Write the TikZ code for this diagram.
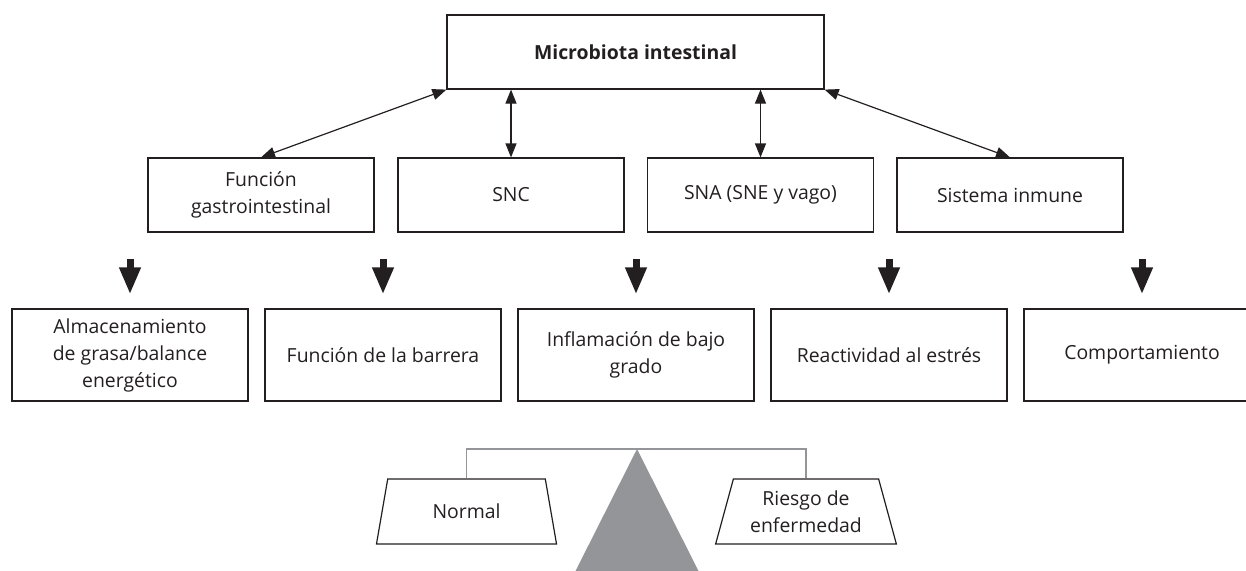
\documentclass[tikz,border=0pt]{standalone}
\usepackage{fontspec}
\setmainfont{Open Sans}
\usetikzlibrary{arrows.meta,positioning,shapes.geometric}
\definecolor{ink}{HTML}{231F20}
\definecolor{scalegray}{HTML}{939598}
\tikzset{
  box/.style={draw=ink, text=ink, line width=1.2pt, align=center, inner sep=0pt, minimum height=74pt, font=\fontsize{19.4}{27}\selectfont},
  midbox/.style={box, minimum width=226pt},
  lowbox/.style={box, minimum width=236pt, minimum height=92pt},
  pan/.style={box, trapezium, trapezium angle=72, trapezium stretches=true, minimum width=181pt, minimum height=65pt},
  dblarr/.style={{Triangle[length=14pt,width=11pt]}-{Triangle[length=14pt,width=11pt]}, line width=1.2pt, ink},
  downarr/.style={-{Triangle[length=27pt,width=20pt]}, line width=7pt, ink, shorten >=14pt},
  beam/.style={scalegray, line width=1.2pt},
}
\begin{document}
\begin{tikzpicture}[x=1pt, y=-1pt]
        \useasboundingbox (0,0) rectangle (1246,570);
        \node[box, minimum width=377pt, font=\fontsize{19.4}{27}\selectfont\bfseries] (micro) at (635.5,52) {Microbiota intestinal};
        \node[midbox] (gi) at (261,195) {Función\\gastrointestinal};
        \node[midbox] (snc) at (511,195) {SNC};
        \node[midbox] (sna) at (760.5,195) {SNA (SNE y vago)};
        \node[midbox] (inm) at (1010,195) {Sistema inmune};
        \draw[dblarr] (gi.north) -- (micro.south west);
        \draw[dblarr] (snc.north) -- (snc.north |- micro.south);
        \draw[dblarr] (sna.north) -- (sna.north |- micro.south);
        \draw[dblarr] (inm.north) -- (micro.south east);
        \node[lowbox] (grasa) at (130,355) {Almacenamiento\\de grasa/balance\\energético};
        \node[lowbox] (barrera) at (383,355) {Función de la barrera};
        \node[lowbox] (inflam) at (636,355) {Inflamación de bajo\\grado};
        \node[lowbox] (estres) at (889,355) {Reactividad al estrés};
        \node[lowbox] (conducta) at (1142,355) {Comportamiento};
        \path (grasa.north) ++(0,-49) coordinate (t1);
        \path (barrera.north) ++(0,-49) coordinate (t2);
        \path (inflam.north) ++(0,-49) coordinate (t3);
        \path (estres.north) ++(0,-49) coordinate (t4);
        \path (conducta.north) ++(0,-49) coordinate (t5);
        \draw[downarr] (t1) -- (grasa);
        \draw[downarr] (t2) -- (barrera);
        \draw[downarr] (t3) -- (inflam);
        \draw[downarr] (t4) -- (estres);
        \draw[downarr] (t5) -- (conducta);
        % balanza
        \coordinate (apex) at (637,449);
        \fill[scalegray] (apex) -- (575,572) -- (699,572) -- cycle;
        \node[pan] (normal) at (466.5,511.5) {Normal};
        \node[pan] (riesgo) at (806,511.5) {Riesgo de\\enfermedad};
        \draw[beam] (normal.north) |- (apex) -| (riesgo.north);
      \end{tikzpicture}
\end{document}
